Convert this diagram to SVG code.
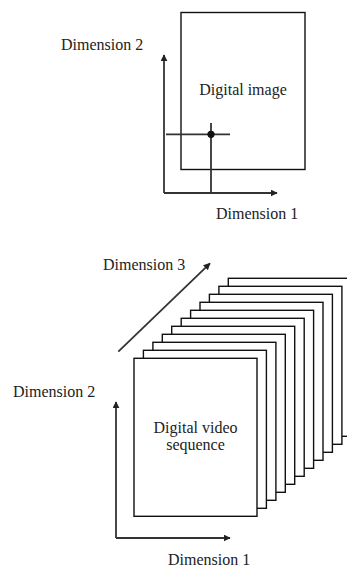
<svg xmlns="http://www.w3.org/2000/svg" width="347" height="570" viewBox="0 0 347 570">
<style>
.t{font-family:'Liberation Serif','Times New Roman','DejaVu Serif',serif;font-size:16px;fill:#222}
.c{text-anchor:middle}
.ax{stroke:#333;stroke-width:1.8;fill:none}
.fr{fill:#fff;stroke:#111;stroke-width:1.4}
</style>
<defs>
<marker id="ah" viewBox="0 0 10 10" refX="9" refY="5" markerWidth="7" markerHeight="7" markerUnits="userSpaceOnUse" orient="auto">
<path d="M0,0 L10,5 L0,10 z" fill="#222"/>
</marker>
</defs>
<rect width="347" height="570" fill="#fff"/>
<g id="image">
<rect class="fr" x="181" y="12.5" width="124" height="157"/>
<text class="t c" x="243" y="95">Digital image</text>
</g>
<g id="video">
<rect class="fr" x="228.3" y="278.3" width="123" height="158"/>
<rect class="fr" x="218.9" y="286.3" width="123" height="158"/>
<rect class="fr" x="209.4" y="294.3" width="123" height="158"/>
<rect class="fr" x="200" y="302.3" width="123" height="158"/>
<rect class="fr" x="190.6" y="310.3" width="123" height="158"/>
<rect class="fr" x="181.2" y="318.3" width="123" height="158"/>
<rect class="fr" x="171.7" y="326.3" width="123" height="158"/>
<rect class="fr" x="162.3" y="334.3" width="123" height="158"/>
<rect class="fr" x="152.9" y="342.3" width="123" height="158"/>
<rect class="fr" x="143.4" y="350.3" width="123" height="158"/>
<rect class="fr" x="134" y="358.3" width="123" height="158"/>
<text class="t c" x="195.5" y="433">Digital video</text>
<text class="t c" x="195.5" y="450">sequence</text>
</g>
<g id="connectors">
<path class="ax" d="M164,193 V55" marker-end="url(#ah)"/>
<path class="ax" d="M164,193 H277" marker-end="url(#ah)"/>
<path class="ax" d="M166,134.3 H230"/>
<path class="ax" d="M211,123 V193"/>
<circle cx="211" cy="134.3" r="3.6" fill="#111"/>
<path class="ax" d="M116,538 V402" marker-end="url(#ah)"/>
<path class="ax" d="M116,538 H230" marker-end="url(#ah)"/>
<path class="ax" d="M118.3,351.7 L210,263.3" marker-end="url(#ah)"/>
</g>
<g id="labels">
<text class="t" x="61" y="50">Dimension 2</text>
<text class="t" x="216" y="219">Dimension 1</text>
<text class="t" x="103" y="270">Dimension 3</text>
<text class="t" x="13" y="397">Dimension 2</text>
<text class="t" x="168" y="565">Dimension 1</text>
</g>
</svg>
